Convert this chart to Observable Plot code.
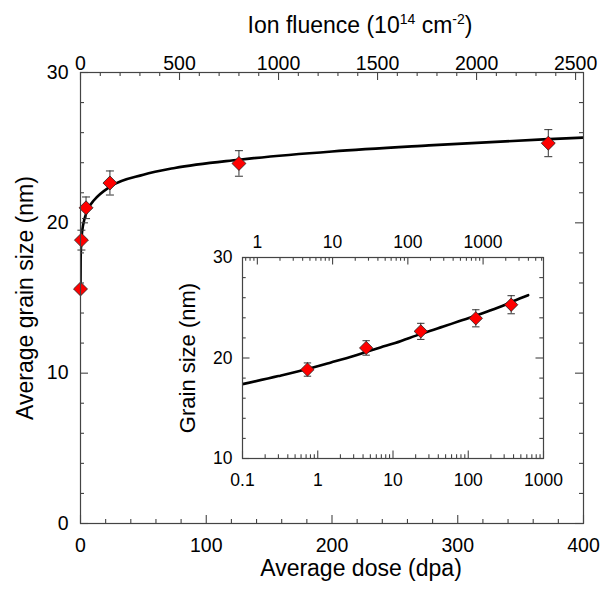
<!DOCTYPE html>
<html>
<head>
<meta charset="utf-8">
<script src="https://cdn.jsdelivr.net/npm/d3@7"></script>
<script src="https://cdn.jsdelivr.net/npm/@observablehq/plot@0.6"></script>
<style>
  body { margin: 0; background: #fff; }
  #wrap { position: relative; width: 600px; height: 590px; }
  #wrap svg { position: absolute; }
</style>
</head>
<body>
<div id="wrap"></div>
<script>
// ---- data ----
const dose = [0, 0.73, 4.4, 23.4, 126, 372];          // dpa
const grain = [15.6, 18.85, 21.0, 22.65, 23.95, 25.3]; // nm
const grainErr = [0, 0.66, 0.72, 0.8, 0.85, 0.9];      // nm

// fitted curve
const fitDose = [0, 0.1, 0.3, 0.73, 1.5, 3, 4.4, 6.8, 10.7, 23.4, 50, 75, 126, 200, 277, 368, 400, 625];
const fitGrain = [15.6, 17.4, 18.2, 18.9, 19.55, 20.2, 20.6, 21.05, 21.5, 22.4, 23.2, 23.65, 24.2, 24.75, 25.15, 25.55, 25.67, 26.25];

const fluencePerDpa = 6.35; // 10^14 cm^-2 per dpa (top axes)

// ---- tick labels ----
const mainDoseTicks = [0, 100, 200, 300, 400];
const mainDoseMinor = [20, 40, 60, 80, 120, 140, 160, 180, 220, 240, 260, 280, 320, 340, 360, 380];
const mainFluenceTicks = [0, 500, 1000, 1500, 2000, 2500];
const mainFluenceMinor = [100, 200, 300, 400, 600, 700, 800, 900, 1100, 1200, 1300, 1400, 1600, 1700, 1800, 1900, 2100, 2200, 2300, 2400];
const mainGrainTicks = [0, 10, 20, 30];
const mainGrainMinor = [2, 4, 6, 8, 12, 14, 16, 18, 22, 24, 26, 28];

const insetDoseTicks = [0.1, 1, 10, 100, 1000];
const insetDoseMinor = [0.2,0.3,0.4,0.5,0.6,0.7,0.8,0.9, 2,3,4,5,6,7,8,9, 20,30,40,50,60,70,80,90, 200,300,400,500,600,700,800,900];
const insetFluenceTicks = [1, 10, 100, 1000];
const insetFluenceMinor = [0.7,0.8,0.9, 2,3,4,5,6,7,8,9, 20,30,40,50,60,70,80,90, 200,300,400,500,600,700,800,900, 2000,3000,4000,5000,6000];
const insetGrainTicks = [10, 20, 30];
const insetGrainMinor = [12, 14, 16, 18, 22, 24, 26, 28];

const xTitle = "Average dose (dpa)";
const yTitle = "Average grain size (nm)";
const insetYTitle = "Grain size (nm)";
const topTitleParts = ["Ion fluence (10", "14", " cm", "-2", ")"];

// ---- build ----
const points = dose.map((d, i) => ({dose: d, size: grain[i], err: grainErr[i]}));
const fit = fitDose.map((d, i) => ({dose: d, size: fitGrain[i]}));
const withErr = points.filter(d => d.err > 0);

const FONT = "'Liberation Sans', Arial, Helvetica, sans-serif";
const axisColor = "#444444";
const capSymbol = {draw(ctx, s) { const w = Math.sqrt(s / Math.PI); ctx.moveTo(-w, 0); ctx.lineTo(w, 0); }};
const toDose = f => f / fluencePerDpa;

function dataMarks(pts, errPts, curve, capR, dotR) {
  return [
    Plot.line(curve, {x: "dose", y: "size", stroke: "black", strokeWidth: 2.6, curve: "monotone-x", clip: true}),
    Plot.ruleX(errPts, {x: "dose", y1: d => d.size - d.err, y2: d => d.size + d.err, stroke: "#333", strokeWidth: 1}),
    Plot.dot(errPts, {x: "dose", y: d => d.size + d.err, symbol: capSymbol, r: capR, stroke: "#333", strokeWidth: 1}),
    Plot.dot(errPts, {x: "dose", y: d => d.size - d.err, symbol: capSymbol, r: capR, stroke: "#333", strokeWidth: 1}),
    Plot.dot(pts, {x: "dose", y: "size", symbol: "diamond2", r: dotR, fill: "#ff0000", stroke: "#222", strokeWidth: 0.8})
  ];
}

// inward tick marks on all four sides of a frame W x H (pixels)
function frameTicks(W, H, xb, xbMinor, xt, xtMinor, yl, ylMinor, major, minor) {
  const s = {stroke: axisColor, strokeWidth: 1.1};
  return [
    Plot.tickX(xbMinor, {x: d => d, insetTop: H - minor, ...s}),
    Plot.tickX(xb, {x: d => d, insetTop: H - major, ...s}),
    Plot.tickX(xtMinor, {x: d => d, insetBottom: H - minor, ...s}),
    Plot.tickX(xt, {x: d => d, insetBottom: H - major, ...s}),
    Plot.tickY(ylMinor, {y: d => d, insetRight: W - minor, ...s}),
    Plot.tickY(yl, {y: d => d, insetRight: W - major, ...s}),
    Plot.tickY(ylMinor, {y: d => d, insetLeft: W - minor, ...s}),
    Plot.tickY(yl, {y: d => d, insetLeft: W - major, ...s})
  ];
}

const M = {width: 600, height: 590, left: 80, right: 17, top: 72, bottom: 67};
const MW = M.width - M.left - M.right, MH = M.height - M.top - M.bottom;

const main = Plot.plot({
  width: M.width, height: M.height,
  marginLeft: M.left, marginRight: M.right, marginTop: M.top, marginBottom: M.bottom,
  style: {fontFamily: FONT, background: "transparent", overflow: "visible"},
  x: {domain: [0, 400]},
  y: {domain: [0, 30]},
  marks: [
    ...dataMarks(points, withErr, fit, 4, 6.3),
    ...frameTicks(MW, MH, mainDoseTicks, mainDoseMinor,
      mainFluenceTicks.map(toDose), mainFluenceMinor.map(toDose),
      mainGrainTicks, mainGrainMinor, 8, 4),
    Plot.frame({stroke: axisColor, strokeWidth: 1.2}),
    Plot.axisX({anchor: "bottom", ticks: mainDoseTicks, tickSize: 0, tickPadding: 15, fontSize: 19.5, label: null}),
    Plot.axisX({anchor: "top", ticks: mainFluenceTicks.map(toDose), tickSize: 0, tickPadding: 3, fontSize: 19.5, label: null,
      tickFormat: d => String(Math.round(d * fluencePerDpa))}),
    Plot.axisY({anchor: "left", ticks: mainGrainTicks, tickSize: 0, tickPadding: 12, fontSize: 19.5, label: null}),
    Plot.text([xTitle], {frameAnchor: "bottom", textAnchor: "middle", dx: 29, dy: 52.5, fontSize: 23, fill: "black"}),
    Plot.text([yTitle], {frameAnchor: "left", textAnchor: "middle", rotate: -90, dx: -55, fontSize: 23, fill: "black"})
  ]
});
d3.select(main).attr("style", null).style("left", "0px").style("top", "0px")
  .style("font-family", FONT).style("overflow", "visible");

// top title with superscripts
const tt = d3.select(main).append("text")
  .attr("x", 360).attr("y", 33).attr("text-anchor", "middle")
  .attr("font-size", 23).attr("font-family", FONT).attr("fill", "black");
tt.append("tspan").text(topTitleParts[0]);
tt.append("tspan").attr("dy", -9).attr("font-size", 14).text(topTitleParts[1]);
tt.append("tspan").attr("dy", 9).text(topTitleParts[2]);
tt.append("tspan").attr("dy", -9).attr("font-size", 14).text(topTitleParts[3]);
tt.append("tspan").attr("dy", 9).text(topTitleParts[4]);

const I = {width: 400, height: 270, left: 82, right: 17, top: 32, bottom: 37};
const IW = I.width - I.left - I.right, IH = I.height - I.top - I.bottom;
const insetPts = points.filter(d => d.dose > 0);

const inset = Plot.plot({
  width: I.width, height: I.height,
  marginLeft: I.left, marginRight: I.right, marginTop: I.top, marginBottom: I.bottom,
  style: {fontFamily: FONT, background: "transparent", overflow: "visible"},
  x: {type: "log", domain: [0.1, 1000]},
  y: {domain: [10, 30]},
  marks: [
    ...dataMarks(insetPts, insetPts.filter(d => d.err > 0), fit.filter(d => d.dose > 0), 3.7, 6),
    ...frameTicks(IW, IH, insetDoseTicks, insetDoseMinor,
      insetFluenceTicks.map(toDose), insetFluenceMinor.map(toDose),
      insetGrainTicks, insetGrainMinor, 7.5, 3.7),
    Plot.frame({stroke: axisColor, strokeWidth: 1.2}),
    Plot.axisX({anchor: "bottom", ticks: insetDoseTicks, tickSize: 0, tickPadding: 15, fontSize: 17.5, label: null,
      tickFormat: d => String(d)}),
    Plot.axisX({anchor: "top", ticks: insetFluenceTicks.map(toDose), tickSize: 0, tickPadding: 10, fontSize: 17.5, label: null,
      tickFormat: d => String(Math.round(d * fluencePerDpa))}),
    Plot.axisY({anchor: "left", ticks: insetGrainTicks, tickSize: 0, tickPadding: 10, fontSize: 17.5, label: null}),
    Plot.text([insetYTitle], {frameAnchor: "left", textAnchor: "middle", rotate: -90, dx: -55, fontSize: 22, fill: "black"})
  ]
});
d3.select(inset).attr("style", null).style("left", "160px").style("top", "225px")
  .style("font-family", FONT).style("overflow", "visible");

const wrap = document.getElementById("wrap");
wrap.appendChild(main);
wrap.appendChild(inset);
</script>
</body>
</html>
